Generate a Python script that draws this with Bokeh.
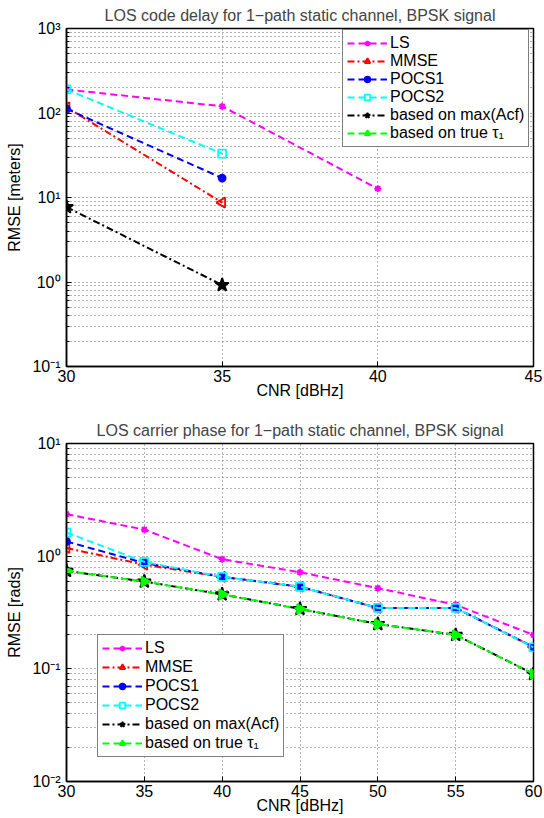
import math
from bokeh.plotting import figure
from bokeh.layouts import column
from bokeh.models import FixedTicker, Legend, LegendItem, Range1d
from bokeh.embed import file_html
from bokeh.resources import INLINE

FONT = "Liberation Sans"
FS = "16px"

# ---------------- texts ----------------
top_title = "LOS code delay for 1\u2212path static channel, BPSK signal"
bot_title = "LOS carrier phase for 1\u2212path static channel, BPSK signal"
x_label = "CNR [dBHz]"
top_ylabel = "RMSE [meters]"
bot_ylabel = "RMSE [rads]"
series_names = ["LS", "MMSE", "POCS1", "POCS2", "based on max(Acf)", "based on true \u03c4\u2081"]

# ---------------- top chart data (code delay, meters) ----------------
top_ls_cnr = [30, 35, 40]
top_ls = [190, 120, 12.7]
top_mmse_cnr = [30, 35]
top_mmse = [117, 8.7]
top_pocs1_cnr = [30, 35]
top_pocs1 = [112, 17]
top_pocs2_cnr = [30, 35]
top_pocs2 = [190, 33]
top_acf_cnr = [30, 35]
top_acf = [7.7, 0.92]
# "based on true tau1" has no visible points in the top chart (legend entry only)
top_true_cnr = [float("nan")]
top_true = [float("nan")]

top_xticks = [30, 35, 40, 45]
top_yticks = [0.1, 1, 10, 100, 1000]
top_ytick_labels = ["10\u207b\u00b9", "10\u2070", "10\u00b9", "10\u00b2", "10\u00b3"]

# ---------------- bottom chart data (carrier phase, rads) ----------------
bot_cnr = [30, 35, 40, 45, 50, 55, 60]
bot_ls = [2.36, 1.72, 0.94, 0.72, 0.52, 0.37, 0.20]
bot_mmse = [1.18, 0.84, 0.655, 0.535, 0.347, 0.347, 0.156]
bot_pocs1 = [1.35, 0.87, 0.655, 0.535, 0.347, 0.347, 0.156]
bot_pocs2 = [1.62, 0.89, 0.655, 0.535, 0.347, 0.347, 0.155]
bot_acf = [0.74, 0.595, 0.458, 0.34, 0.25, 0.20, 0.09]
bot_true = [0.74, 0.595, 0.458, 0.34, 0.25, 0.20, 0.09]

bot_xticks = [30, 35, 40, 45, 50, 55, 60]
bot_yticks = [0.01, 0.1, 1, 10]
bot_ytick_labels = ["10\u207b\u00b2", "10\u207b\u00b9", "10\u2070", "10\u00b9"]

# ---------------- styles ----------------
styles = [
    dict(color="#ff00ff", dash="7 4", marker="asterisk", size=7, fill=True, angle=0.0),
    dict(color="#ff0000", dash="7 3 2 3", marker="triangle", size=10, fill=False, angle=math.pi / 2),
    dict(color="#0000ff", dash="7 4", marker="circle", size=7, fill=True, angle=0.0),
    dict(color="#00ffff", dash="7 4", marker="square", size=8, fill=False, angle=0.0),
    dict(color="#000000", dash="7 3 2 3", marker="star", size=14, fill=True, angle=0.0),
    dict(color="#00ff00", dash="7 4", marker="triangle", size=10, fill=True, angle=-math.pi / 2),
]

FRAME_W = 467
FRAME_H = 338


def build(title, ylabel, xticks, yticks, ylabels, series, legend_loc, top_border,
          bottom_border, legend_spacing):
    minor = [m * d for d in yticks[:-1] for m in range(2, 10)]
    p = figure(
        frame_width=FRAME_W, frame_height=FRAME_H,
        x_range=Range1d(xticks[0], xticks[-1]),
        y_range=Range1d(yticks[0], yticks[-1]),
        y_axis_type="log",
        output_backend="svg", toolbar_location=None,
        min_border_left=66, min_border_right=9,
        min_border_top=top_border, min_border_bottom=bottom_border,
        background_fill_color="white", border_fill_color="white",
    )
    p.title.text = title
    p.title.text_font = FONT
    p.title.text_font_size = FS
    p.title.text_font_style = "normal"
    p.title.align = "center"
    p.title.standoff = 9
    p.outline_line_color = "black"
    p.outline_line_width = 1.5

    p.xaxis.ticker = FixedTicker(ticks=xticks)
    p.yaxis.ticker = FixedTicker(ticks=yticks, minor_ticks=minor)
    p.yaxis.major_label_overrides = {t: lab for t, lab in zip(yticks, ylabels)}

    for ax in (p.xaxis[0], p.yaxis[0]):
        ax.axis_line_color = "black"
        ax.axis_line_width = 1.5
        ax.major_tick_in = 5
        ax.major_tick_out = 0
        ax.minor_tick_in = 3
        ax.minor_tick_out = 0
        ax.major_tick_line_color = "black"
        ax.minor_tick_line_color = "black"
        ax.major_label_text_font = FONT
        ax.major_label_text_font_size = FS
        ax.major_label_text_color = "black"
        ax.axis_label_text_font = FONT
        ax.axis_label_text_font_size = FS
        ax.axis_label_text_font_style = "normal"
        ax.axis_label_text_color = "black"
    p.xaxis.axis_label = x_label
    p.yaxis.axis_label = ylabel
    p.xaxis.major_label_standoff = 3
    p.xaxis.axis_label_standoff = -3
    p.yaxis.major_label_standoff = 6
    p.yaxis.axis_label_standoff = 6

    for g in (p.xgrid[0], p.ygrid[0]):
        g.grid_line_color = "#666666"
        g.grid_line_dash = "1 3"
        g.grid_line_width = 1
    p.ygrid.minor_grid_line_color = "#666666"
    p.ygrid.minor_grid_line_dash = "1 3"
    p.ygrid.minor_grid_line_width = 1

    items = []
    for name, (xs, ys), st in zip(series_names, series, styles):
        lr = p.line(xs, ys, line_color=st["color"], line_width=2, line_dash=st["dash"])
        sr = p.scatter(xs, ys, marker=st["marker"], size=st["size"], angle=st["angle"],
                       line_color=st["color"], line_width=1.8,
                       fill_color=st["color"] if st["fill"] else None)
        items.append(LegendItem(label=name, renderers=[lr, sr]))

    leg = Legend(items=items, location=legend_loc)
    leg.border_line_color = "black"
    leg.border_line_width = 1
    leg.background_fill_color = "white"
    leg.background_fill_alpha = 1.0
    leg.label_text_font = FONT
    leg.label_text_font_size = FS
    leg.label_text_color = "black"
    leg.glyph_width = 40
    leg.glyph_height = 14
    leg.label_standoff = 3
    leg.label_height = 14
    leg.padding = 4
    leg.spacing = legend_spacing
    leg.margin = 0
    p.add_layout(leg)
    return p


top_series = [
    (top_ls_cnr, top_ls), (top_mmse_cnr, top_mmse), (top_pocs1_cnr, top_pocs1),
    (top_pocs2_cnr, top_pocs2), (top_acf_cnr, top_acf), (top_true_cnr, top_true),
]
bot_series = [
    (bot_cnr, bot_ls), (bot_cnr, bot_mmse), (bot_cnr, bot_pocs1),
    (bot_cnr, bot_pocs2), (bot_cnr, bot_acf), (bot_cnr, bot_true),
]

p1 = build(top_title, top_ylabel, top_xticks, top_yticks, top_ytick_labels, top_series,
           (276, 219), 27, 37, 0)
p2 = build(bot_title, bot_ylabel, bot_xticks, bot_yticks, bot_ytick_labels, bot_series,
           (31, 24), 40, 36, 1)

layout = column(p1, p2)
open("out.html", "w").write(file_html(layout, INLINE))
